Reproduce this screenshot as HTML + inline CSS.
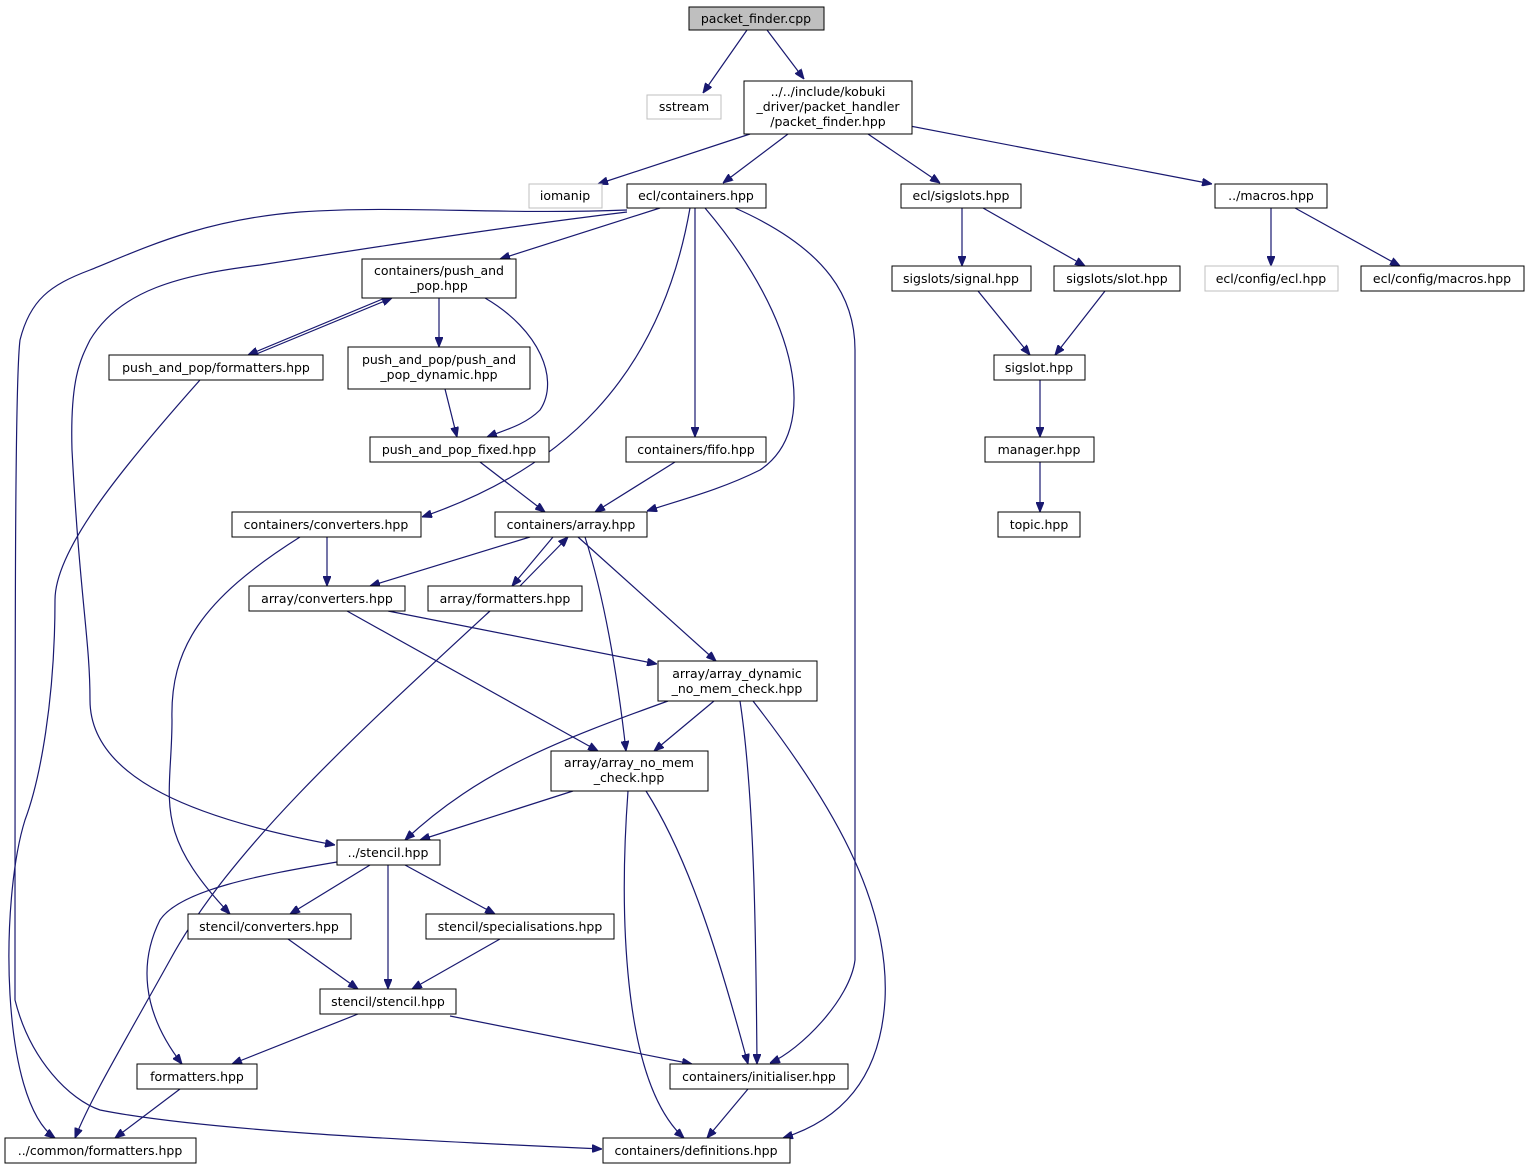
<!DOCTYPE html>
<html><head><meta charset="utf-8"><style>
html,body{margin:0;padding:0;background:#fff}
svg text{font-family:"DejaVu Sans","Liberation Sans",sans-serif;font-size:12.5px;fill:#000;text-anchor:middle}
</style></head><body>
<svg width="1530" height="1171" viewBox="0 0 1530 1171" xmlns="http://www.w3.org/2000/svg">
<defs><marker id="a" markerWidth="10" markerHeight="8" refX="10" refY="4" orient="auto" markerUnits="userSpaceOnUse"><path d="M0,0 L10,4 L0,8 z" fill="#191970" stroke="#191970"/></marker></defs>
<g fill="none" stroke="#191970" stroke-width="1.2" marker-end="url(#a)">
<path d="M747,30 L703,93"/>
<path d="M767,30 L804,79"/>
<path d="M750,134 L598,184"/>
<path d="M788,134 L723,183"/>
<path d="M868,134 L940,183"/>
<path d="M910,126 L1212,184"/>
<path d="M660,208 L500,259"/>
<path d="M627,210 C500,215 400,205 300,212 C200,220 140,250 90,270 C50,285 30,300 20,340 C15,380 15,600 15,1000 C30,1060 70,1100 100,1110 C200,1130 400,1140 602,1149"/>
<path d="M627,212 C520,225 420,240 260,265 C180,275 120,290 90,340 C80,360 70,380 72,450 C80,600 90,640 90,700 C90,780 200,820 335,845"/>
<path d="M690,208 C660,380 560,470 422,517"/>
<path d="M695,208 L695,437"/>
<path d="M705,208 C800,320 820,430 760,470 C720,490 680,500 647,511"/>
<path d="M735,208 C830,250 855,300 855,350 C855,700 855,800 855,960 C850,1000 800,1050 770,1063"/>
<path d="M385,298 L248,355"/>
<path d="M254,355 L392,298"/>
<path d="M439,298 L439,347"/>
<path d="M485,298 C540,330 560,380 540,410 C525,425 505,430 487,437"/>
<path d="M445,389 L457,437"/>
<path d="M480,462 L545,512"/>
<path d="M675,462 L595,512"/>
<path d="M327,537 L327,586"/>
<path d="M530,537 L370,586"/>
<path d="M553,537 L512,586"/>
<path d="M520,586 L568,537"/>
<path d="M578,537 L716,661"/>
<path d="M585,537 C605,600 618,680 626,751"/>
<path d="M388,611 L657,664"/>
<path d="M347,611 L598,751"/>
<path d="M714,701 L654,751"/>
<path d="M668,701 C560,740 480,770 405,840"/>
<path d="M573,791 L420,840"/>
<path d="M740,701 C755,800 756,950 757,1064"/>
<path d="M753,701 C830,800 890,900 885,1000 C880,1080 840,1120 783,1138"/>
<path d="M646,791 C690,860 720,960 748,1064"/>
<path d="M628,791 C620,900 620,1080 684,1138"/>
<path d="M300,537 C200,600 170,650 172,720 C172,800 150,830 230,914"/>
<path d="M200,380 C120,470 55,550 55,600 C55,700 40,780 25,820 C0,900 0,1100 55,1138"/>
<path d="M490,611 C350,740 230,850 170,960 C120,1050 90,1100 75,1138"/>
<path d="M337,862 C260,875 180,890 160,920 C140,960 140,1010 182,1064"/>
<path d="M370,865 L290,914"/>
<path d="M388,865 L388,989"/>
<path d="M405,865 L495,914"/>
<path d="M288,939 L358,989"/>
<path d="M500,939 L412,989"/>
<path d="M358,1014 L232,1064"/>
<path d="M450,1016 L692,1064"/>
<path d="M180,1089 L115,1138"/>
<path d="M748,1089 L707,1138"/>
<path d="M962,208 L962,266"/>
<path d="M983,208 L1085,266"/>
<path d="M978,291 L1030,355"/>
<path d="M1105,291 L1055,355"/>
<path d="M1040,380 L1040,437"/>
<path d="M1040,462 L1040,512"/>
<path d="M1271,208 L1271,266"/>
<path d="M1295,208 L1400,266"/>
</g>
<g stroke="#000" stroke-width="1" fill="#fff">
<rect x="689" y="7" width="135" height="23" fill="#bfbfbf"/>
<rect x="647" y="95" width="74" height="24" stroke="#bfbfbf"/>
<rect x="744" y="81" width="168" height="53"/>
<rect x="529" y="184" width="73" height="24" stroke="#bfbfbf"/>
<rect x="627" y="184" width="139" height="24"/>
<rect x="901" y="184" width="120" height="24"/>
<rect x="1215" y="184" width="112" height="24"/>
<rect x="362" y="259" width="154" height="39"/>
<rect x="892" y="266" width="139" height="25"/>
<rect x="1054" y="266" width="126" height="25"/>
<rect x="1205" y="266" width="133" height="25" stroke="#bfbfbf"/>
<rect x="1361" y="266" width="163" height="25"/>
<rect x="109" y="355" width="214" height="25"/>
<rect x="348" y="347" width="182" height="42"/>
<rect x="994" y="355" width="91" height="25"/>
<rect x="370" y="437" width="179" height="25"/>
<rect x="626" y="437" width="140" height="25"/>
<rect x="985" y="437" width="109" height="25"/>
<rect x="232" y="512" width="189" height="25"/>
<rect x="495" y="512" width="152" height="25"/>
<rect x="998" y="512" width="82" height="25"/>
<rect x="249" y="586" width="156" height="25"/>
<rect x="428" y="586" width="154" height="25"/>
<rect x="658" y="661" width="159" height="40"/>
<rect x="551" y="751" width="157" height="40"/>
<rect x="337" y="840" width="103" height="25"/>
<rect x="188" y="914" width="163" height="25"/>
<rect x="426" y="914" width="188" height="25"/>
<rect x="320" y="989" width="136" height="25"/>
<rect x="137" y="1064" width="120" height="25"/>
<rect x="670" y="1064" width="178" height="25"/>
<rect x="5" y="1138" width="191" height="25"/>
<rect x="603" y="1138" width="187" height="25"/>
</g>
<g>
<text x="756" y="23">packet_finder.cpp</text>
<text x="684" y="111">sstream</text>
<text x="828" y="96">../../include/kobuki</text>
<text x="828" y="111">_driver/packet_handler</text>
<text x="828" y="126">/packet_finder.hpp</text>
<text x="565" y="200">iomanip</text>
<text x="696" y="200">ecl/containers.hpp</text>
<text x="961" y="200">ecl/sigslots.hpp</text>
<text x="1271" y="200">../macros.hpp</text>
<text x="439" y="275">containers/push_and</text>
<text x="439" y="290">_pop.hpp</text>
<text x="961" y="283">sigslots/signal.hpp</text>
<text x="1117" y="283">sigslots/slot.hpp</text>
<text x="1271" y="283">ecl/config/ecl.hpp</text>
<text x="1442" y="283">ecl/config/macros.hpp</text>
<text x="216" y="372">push_and_pop/formatters.hpp</text>
<text x="439" y="364">push_and_pop/push_and</text>
<text x="439" y="379">_pop_dynamic.hpp</text>
<text x="1039" y="372">sigslot.hpp</text>
<text x="459" y="454">push_and_pop_fixed.hpp</text>
<text x="696" y="454">containers/fifo.hpp</text>
<text x="1039" y="454">manager.hpp</text>
<text x="326" y="529">containers/converters.hpp</text>
<text x="571" y="529">containers/array.hpp</text>
<text x="1039" y="529">topic.hpp</text>
<text x="327" y="603">array/converters.hpp</text>
<text x="505" y="603">array/formatters.hpp</text>
<text x="737" y="678">array/array_dynamic</text>
<text x="737" y="693">_no_mem_check.hpp</text>
<text x="629" y="767">array/array_no_mem</text>
<text x="629" y="782">_check.hpp</text>
<text x="388" y="857">../stencil.hpp</text>
<text x="269" y="931">stencil/converters.hpp</text>
<text x="520" y="931">stencil/specialisations.hpp</text>
<text x="388" y="1006">stencil/stencil.hpp</text>
<text x="197" y="1081">formatters.hpp</text>
<text x="759" y="1081">containers/initialiser.hpp</text>
<text x="100" y="1155">../common/formatters.hpp</text>
<text x="696" y="1155">containers/definitions.hpp</text>
</g>
</svg>
</body></html>
